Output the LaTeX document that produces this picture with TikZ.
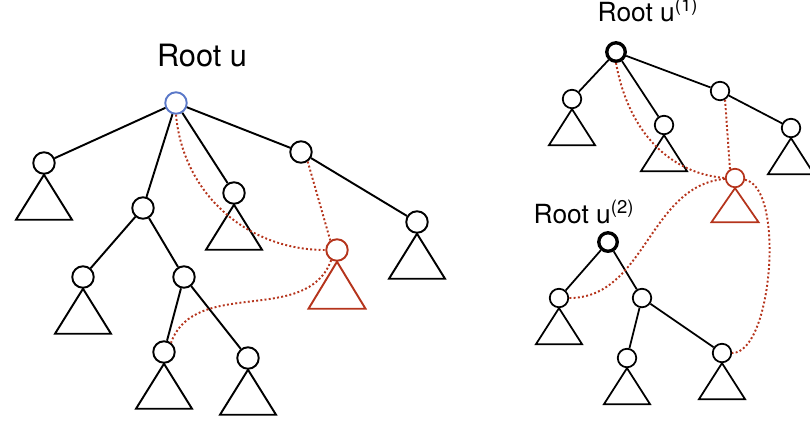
\documentclass[tikz,border=0pt]{standalone}
\usepackage{fontspec}
\setmainfont{TeX Gyre Heros}
\usepackage{tikz}
\usepackage{xcolor}
\definecolor{rootblue}{HTML}{5A78C8}
\definecolor{linkred}{HTML}{B5341C}

\begin{document}
\begin{tikzpicture}[x=0.02cm, y=0.02cm,
		vtx/.style = {circle, draw, inner sep=0pt, minimum size=0.43cm, line width=1.1pt},
		svtx/.style = {circle, draw, inner sep=0pt, minimum size=0.37cm, line width=1pt},
		link/.style = {linkred, line width=1.1pt, dash pattern=on 1.1pt off 1.3pt}]
		\useasboundingbox (0,0) rectangle (810,-427);

		\node[anchor=base] (lbl) at (202,-66) {\fontsize{17.5}{20}\selectfont Root u};
		\node[vtx, rootblue] (ru) at (176,-103) {};
		\node[vtx] (a) at (44,-163) {};
		\node[vtx] (m) at (143,-208) {};
		\node[vtx] (c) at (234,-193) {};
		\node[vtx] (r1) at (301,-152) {};
		\node[vtx] (r2) at (417,-222) {};
		\node[vtx] (ml) at (83,-277) {};
		\node[vtx] (mr) at (184,-277) {};
		\node[vtx] (mrl) at (164,-352) {};
		\node[vtx] (mrr) at (248,-358) {};
		\node[vtx, linkred] (red) at (337,-250) {};

		\draw[line width=1.1pt] (ru) -- (a);
		\draw[line width=1.1pt] (ru) -- (m);
		\draw[line width=1.1pt] (ru) -- (c);
		\draw[line width=1.1pt] (ru) -- (r1);
		\draw[line width=1.1pt] (r1) -- (r2);
		\draw[line width=1.1pt] (m) -- (ml);
		\draw[line width=1.1pt] (m) -- (mr);
		\draw[line width=1.1pt] (mr) -- (mrl);
		\draw[line width=1.1pt] (mr) -- (mrr);
		\foreach \n in {a,c,r2,ml,mrl,mrr}
			\draw[line width=1.1pt] (\n.south) -- ++(-28,-45) -- ++(56,0) -- cycle;
		\draw[line width=1.1pt, linkred] (red.south) -- ++(-28.5,-47) -- ++(57,0) -- cycle;

		\draw[link] (ru.south) to[out=-85, in=180] (red.west);
		\draw[link] (r1.-55) -- (red.125);
		\draw[link] (red.240) to[out=250, in=70] (mrl.53);

		\node[anchor=base] (lbl1) at (648,-21) {\fontsize{15}{18}\selectfont Root u\textsuperscript{(1)}};
		\node[svtx, line width=1.9pt] (ra) at (616,-52) {};
		\node[svtx] (ra1) at (572,-99) {};
		\node[svtx] (ra2) at (664,-125) {};
		\node[svtx] (ra3) at (720,-91) {};
		\node[svtx] (ra4) at (791,-128) {};
		\node[svtx, linkred] (red2) at (735,-178) {};

		\node[anchor=base] (lbl2) at (584,-223) {\fontsize{15}{18}\selectfont Root u\textsuperscript{(2)}};
		\node[svtx, line width=1.9pt] (rb) at (608,-242) {};
		\node[svtx] (rb1) at (559,-298) {};
		\node[svtx] (rb2) at (642,-298) {};
		\node[svtx] (rb3) at (627,-358) {};
		\node[svtx] (rb4) at (722,-353) {};

		\draw[line width=1pt] (ra) -- (ra1);
		\draw[line width=1pt] (ra) -- (ra2);
		\draw[line width=1pt] (ra) -- (ra3);
		\draw[line width=1pt] (ra3) -- (ra4);
		\draw[line width=1pt] (rb) -- (rb1);
		\draw[line width=1pt] (rb) -- (rb2);
		\draw[line width=1pt] (rb2) -- (rb3);
		\draw[line width=1pt] (rb2) -- (rb4);
		\foreach \n in {ra1,ra2,ra4,rb1,rb3,rb4}
			\draw[line width=1pt] (\n.south) -- ++(-23,-36) -- ++(46,0) -- cycle;
		\draw[line width=1pt, linkred] (red2.south) -- ++(-23.5,-34) -- ++(47,0) -- cycle;

		\draw[link] (ra.south) to[out=-80, in=175] (red2.west);
		\draw[link] (ra3.-60) -- (red2.120);
		\draw[link] (red2.185) to[out=185, in=0] (rb1.east);
		\draw[link] (red2.-10) to[out=-10, in=0, looseness=0.6] (rb4.east);
	\end{tikzpicture}
\end{document}
